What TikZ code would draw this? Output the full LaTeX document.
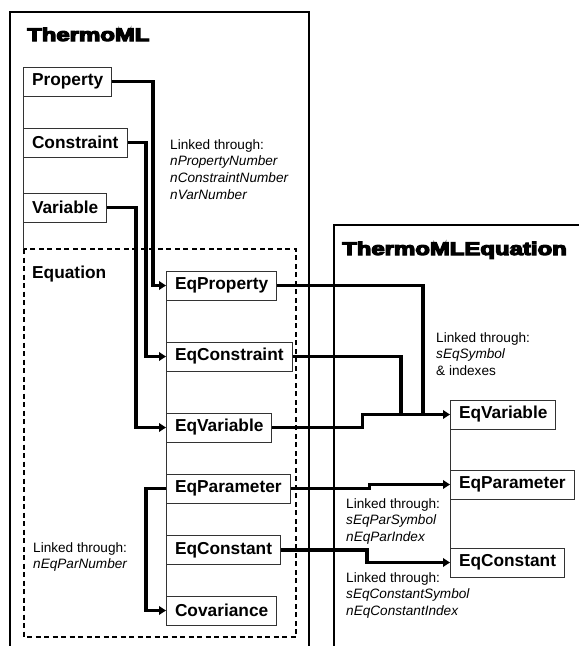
\documentclass[tikz,border=0pt]{standalone}
\usepackage{fontspec}
\setmainfont{Liberation Sans}
\newfontfamily\heavyfont{Liberation Sans Bold}[FakeBold=6]
\usetikzlibrary{arrows.meta}

\newcommand\boxfont{\fontsize{17.3}{20}\selectfont\bfseries}
\newcommand\notefont{\fontsize{13.6}{16.8}\selectfont}
\newcommand\titlefont{\heavyfont\fontsize{18.4}{20}\selectfont}

\tikzset{
  x=1pt, y=-1pt,
  frame/.style={line width=1.5pt, black},
  groupbox/.style={line width=1.4pt, dash pattern=on 5pt off 3.5pt},
  spine/.style={line width=1pt, black!80},
  elem/.style={draw=black!80, line width=1pt, fill=white, font=\boxfont,
    minimum height=29pt, inner xsep=8.5pt, inner ysep=0pt, anchor=west},
  link/.style={line width=3.2pt},
  linkto/.style={link, -{Triangle[length=7pt,width=8.5pt]}},
  note/.style={anchor=north west, inner sep=0pt, align=left, font=\notefont},
  heading/.style={anchor=base west, inner sep=0pt},
}

\begin{document}
\begin{tikzpicture}
\useasboundingbox (0,0) rectangle (579,646);

% outer schema frames, open towards the bottom
\draw[frame] (10,646) -- (10,12) -- (309,12) -- (309,646);
\draw[frame] (334,646) -- (334,225) -- (579,225);

\node[heading] (tml) at (27,41) {\scalebox{1.3}[1]{\titlefont ThermoML}};
\node[heading] (tmleq) at (342,255) {\scalebox{1.3}[1]{\titlefont ThermoMLEquation}};

% Equation group
\coordinate (eqtl) at (24,249);
\coordinate (eqbr) at (296,637);
\draw[groupbox] (eqtl) rectangle (eqbr);
\node[anchor=west, inner sep=0pt, font=\boxfont] (eqlabel) at (32,274) {Equation};

% elements
\node[elem] (prop) at (23,81.5) {Property};
\node[elem] (cons) at (23,142.5) {Constraint};
\node[elem] (var) at (23,207.5) {Variable};

\node[elem] (eqprop) at (166,285.5) {EqProperty};
\node[elem] (eqcons) at (166,356.5) {EqConstraint};
\node[elem] (eqvar) at (166,427.5) {EqVariable};
\node[elem] (eqpar) at (166,488.5) {EqParameter};
\node[elem] (eqconst) at (166,550) {EqConstant};
\node[elem] (cov) at (166,610.5) {Covariance};

\node[elem] (reqvar) at (450,414.5) {EqVariable};
\node[elem] (reqpar) at (450,484.5) {EqParameter};
\node[elem] (reqconst) at (450,562.5) {EqConstant};

% tree spines
\draw[spine] (prop.south west) -- (prop.south west |- eqtl);
\draw[spine] (eqprop.south west) -- (cov.north west);
\draw[spine] (reqvar.south west) -- (reqconst.north west);

% links inside ThermoML
\draw[linkto] (prop.east) -| ([xshift=-13pt]eqprop.west) -- (eqprop.west);
\draw[linkto] (cons.east) -| ([xshift=-20pt]eqcons.west) -- (eqcons.west);
\draw[linkto] (var.east) -| ([xshift=-30pt]eqvar.west) -- (eqvar.west);
\draw[linkto] (eqpar.west) -- ++(-20,0) |- (cov.west);

% links to ThermoMLEquation
\draw[link] (eqprop.east) -| ([xshift=-27pt]reqvar.west);
\draw[link] (eqcons.east) -| ([xshift=-49pt]reqvar.west);
\draw[linkto] (eqvar.east) -- ++(90,0) |- (reqvar.west);
\draw[linkto] (eqpar.east) -- ++(79,0) |- (reqpar.west);
\draw[linkto] (eqconst.east) -- ++(86,0) |- (reqconst.west);

% key notes
\node[note] (n1) at (170,139) {Linked through:\\\textit{nPropertyNumber}\\\textit{nConstraintNumber}\\\textit{nVarNumber}};
\node[note] (n2) at (436,332) {Linked through:\\\textit{sEqSymbol}\\\& indexes};
\node[note] (n3) at (346,498) {Linked through:\\\textit{sEqParSymbol}\\\textit{nEqParIndex}};
\node[note] (n4) at (346,572) {Linked through:\\\textit{sEqConstantSymbol}\\\textit{nEqConstantIndex}};
\node[note] (n5) at (33,542) {Linked through:\\\textit{nEqParNumber}};
\end{tikzpicture}
\end{document}
